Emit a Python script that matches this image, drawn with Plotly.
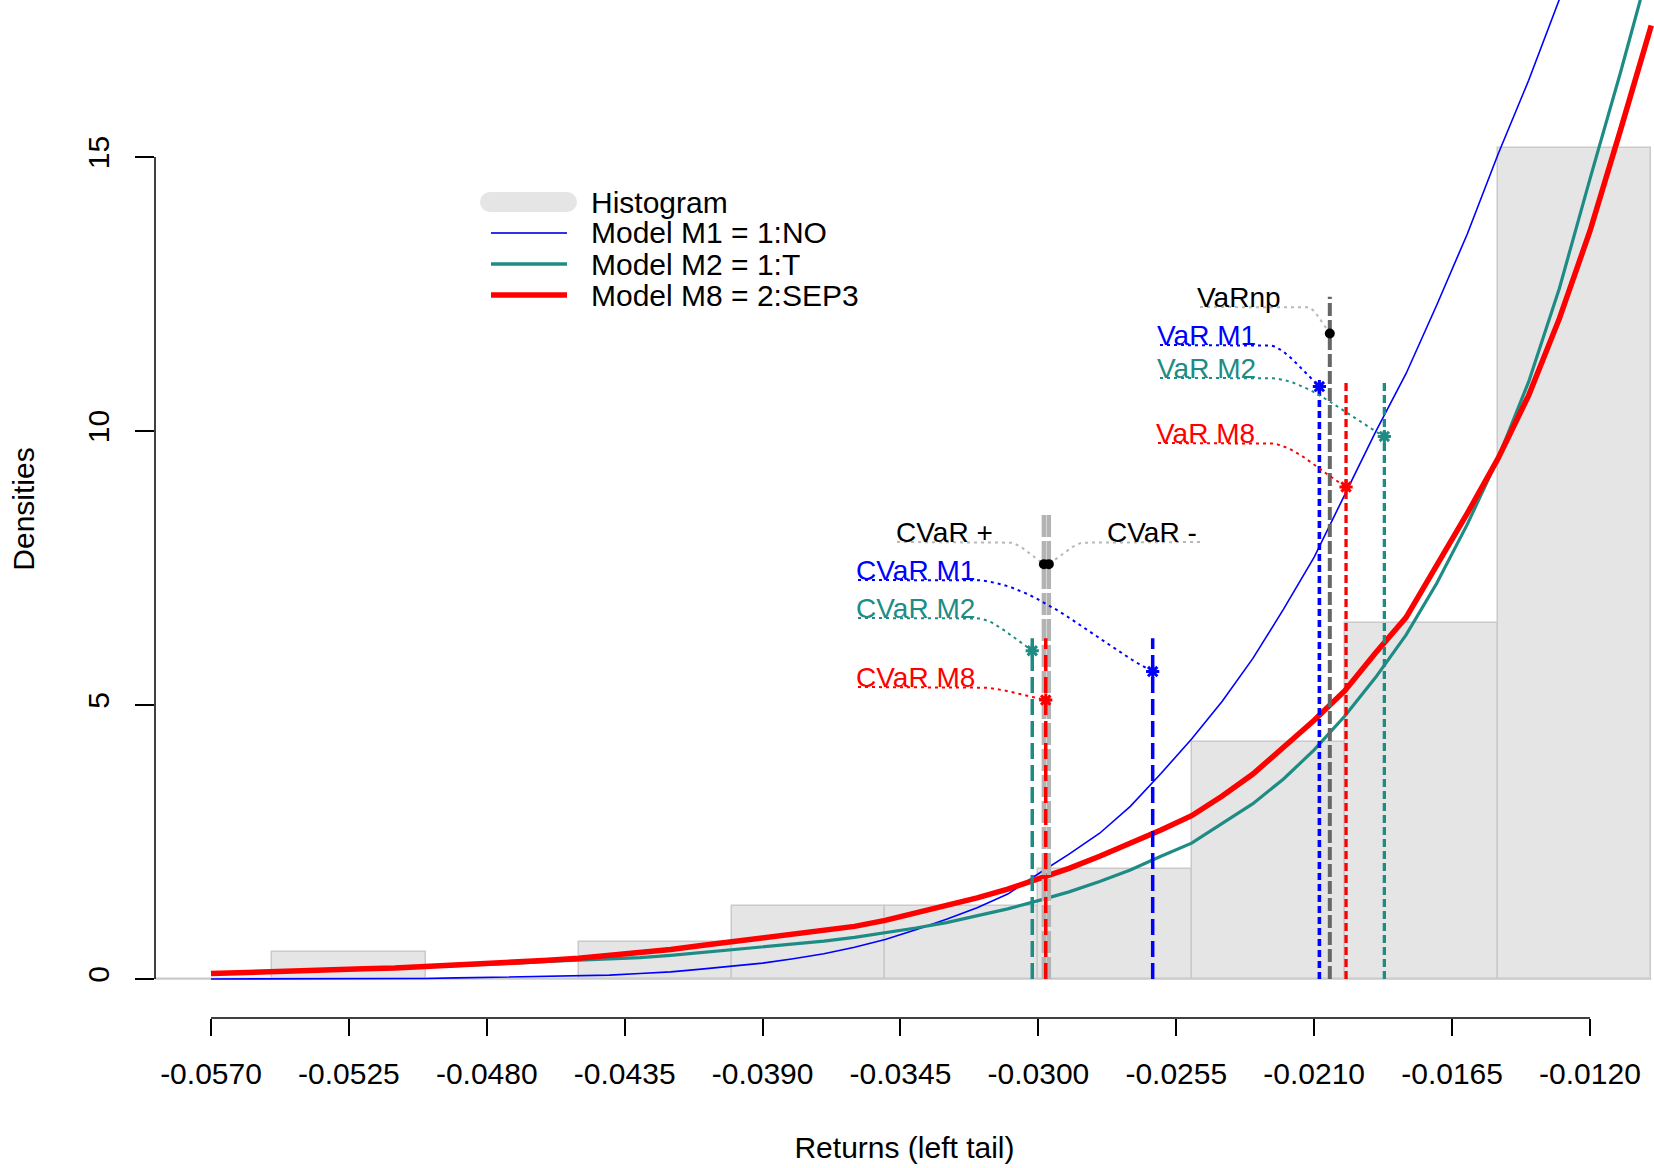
import numpy as np
import plotly.graph_objects as go

# ---------------- data ----------------
bin_edges = [-0.060, -0.055, -0.050, -0.045, -0.040, -0.035, -0.030, -0.025, -0.020, -0.015, -0.010]
hist_density = [0.0, 0.5, 0.0, 0.667, 1.333, 1.333, 2.0, 4.333, 6.5, 15.167]

grid_x = [-0.057, -0.056, -0.055, -0.054, -0.053, -0.052, -0.051, -0.050, -0.049, -0.048,
          -0.047, -0.046, -0.045, -0.044, -0.043, -0.042, -0.041, -0.040, -0.039, -0.038,
          -0.037, -0.036, -0.035, -0.034, -0.033, -0.032, -0.031, -0.030, -0.029, -0.028,
          -0.027, -0.026, -0.025, -0.024, -0.023, -0.022, -0.021, -0.020, -0.019, -0.018,
          -0.017, -0.016, -0.015, -0.014, -0.013, -0.012, -0.011, -0.010]

dens_m1 = [0.0, 0.0, 0.0, 0.0, 0.0, 0.0, 0.005, 0.01, 0.02, 0.03,
           0.035, 0.045, 0.06, 0.07, 0.10, 0.13, 0.18, 0.23, 0.29, 0.37,
           0.46, 0.58, 0.72, 0.90, 1.09, 1.30, 1.55, 1.92, 2.28, 2.66,
           3.15, 3.75, 4.38, 5.07, 5.85, 6.75, 7.70, 8.84, 9.98, 11.05,
           12.30, 13.60, 15.05, 16.40, 17.85, 19.3, 20.8, 22.3]

dens_m2 = [0.10, 0.12, 0.14, 0.15, 0.165, 0.18, 0.20, 0.22, 0.245, 0.265,
           0.29, 0.32, 0.345, 0.36, 0.39, 0.43, 0.48, 0.53, 0.58, 0.63,
           0.69, 0.76, 0.84, 0.93, 1.03, 1.15, 1.28, 1.43, 1.59, 1.78,
           1.99, 2.24, 2.48, 2.84, 3.20, 3.65, 4.18, 4.80, 5.50, 6.28,
           7.22, 8.30, 9.50, 10.90, 12.60, 14.60, 16.55, 18.60]

dens_m8 = [0.10, 0.12, 0.145, 0.155, 0.17, 0.185, 0.20, 0.225, 0.25, 0.27,
           0.30, 0.34, 0.38, 0.43, 0.49, 0.54, 0.61, 0.68, 0.74, 0.80,
           0.87, 0.96, 1.07, 1.20, 1.33, 1.48, 1.64, 1.83, 2.02, 2.24,
           2.47, 2.72, 2.98, 3.34, 3.74, 4.24, 4.72, 5.26, 5.95, 6.60,
           7.55, 8.50, 9.50, 10.65, 12.05, 13.65, 15.50, 17.40]

x_ticks = [-0.0570, -0.0525, -0.0480, -0.0435, -0.0390, -0.0345, -0.0300, -0.0255, -0.0210, -0.0165, -0.0120]
y_ticks = [0, 5, 10, 15]

var_names = ["VaRnp", "VaR M1", "VaR M2", "VaR M8"]
var_x = [-0.02049, -0.02083, -0.01871, -0.01996]
var_top = [12.45, 10.85, 10.93, 10.93]
var_mark = [11.78, 10.81, 9.90, 8.98]

cvar_names = ["CVaR +", "CVaR -", "CVaR M1", "CVaR M2", "CVaR M8"]
cvar_x = [-0.02982, -0.02966, -0.02627, -0.03020, -0.02976]
cvar_top = [8.50, 8.50, 6.22, 6.22, 6.22]
cvar_mark = [7.57, 7.57, 5.61, 5.99, 5.09]

model_names = ["Model M1 = 1:NO", "Model M2 = 1:T", "Model M8 = 2:SEP3"]

# ---------------- styles / layout ----------------
W, H = 1654, 1168
ML, MR, MT, MB = 155, 0, 0, 150
PW, PH = W - ML - MR, H - MT - MB

# pixel <-> data mapping of the reference
X_REF_PX, X_REF_VAL, X_SCALE = 211.0, -0.0570, 30644.0
Y_REF_PX, Y_SCALE = 979.0, 54.8


def px2x(px):
    return X_REF_VAL + (px - X_REF_PX) / X_SCALE


def py2y(py):
    return (Y_REF_PX - py) / Y_SCALE


def x2px(x):
    return X_REF_PX + (x - X_REF_VAL) * X_SCALE


def y2py(y):
    return Y_REF_PX - y * Y_SCALE


def ppx(px):
    return (px - ML) / PW


def ppy(py):
    return (MT + PH - py) / PH


FONT = "Liberation Sans, Arial, Helvetica, sans-serif"
BLUE = "#0000FF"
TEAL = "#1E8C85"
RED = "#FF0000"
DGREY = "#666666"
LGREY = "#B3B3B3"
CGREY = "#B8B8B8"
HFILL = "#E5E5E5"
HEDGE = "#CACACA"

style = {
    "VaRnp": dict(color=DGREY, dash="13px,4px", width=4.0, txt="black", conn=CGREY, mk="circle"),
    "VaR M1": dict(color=BLUE, dash="7px,4px", width=3.6, txt=BLUE, conn=BLUE, mk="asterisk-open"),
    "VaR M2": dict(color=TEAL, dash="8px,4px", width=3.3, txt=TEAL, conn=TEAL, mk="asterisk-open"),
    "VaR M8": dict(color=RED, dash="8px,4px", width=3.3, txt=RED, conn=RED, mk="asterisk-open"),
    "CVaR +": dict(color=LGREY, dash="22px,4px", width=4.5, txt="black", conn=CGREY, mk="circle"),
    "CVaR -": dict(color=LGREY, dash="22px,4px", width=4.5, txt="black", conn=CGREY, mk="circle"),
    "CVaR M1": dict(color=BLUE, dash="16px,6px", width=3.5, txt=BLUE, conn=BLUE, mk="asterisk-open"),
    "CVaR M2": dict(color=TEAL, dash="16px,6px", width=3.5, txt=TEAL, conn=TEAL, mk="asterisk-open"),
    "CVaR M8": dict(color=RED, dash="16px,6px", width=3.5, txt=RED, conn=RED, mk="asterisk-open"),
}

# label layout in pixels: text left, text cap-centre y, underline start, underline end, connecting side
label_pos = {
    "VaRnp": (1196, 297, 1200, 1307, "right"),
    "VaR M1": (1156, 335, 1160, 1267, "right"),
    "VaR M2": (1156, 368, 1160, 1268, "right"),
    "VaR M8": (1155, 433, 1158, 1267, "right"),
    "CVaR +": (895, 532, 897, 1007, "right"),
    "CVaR -": (1106, 532, 1087, 1200, "left"),
    "CVaR M1": (855, 570, 858, 972, "right"),
    "CVaR M2": (855, 608, 858, 975, "right"),
    "CVaR M8": (855, 677, 858, 975, "right"),
}

fig = go.Figure()

# histogram
centers = [(a + b) / 2 for a, b in zip(bin_edges[:-1], bin_edges[1:])]
widths = [b - a for a, b in zip(bin_edges[:-1], bin_edges[1:])]
fig.add_trace(go.Bar(x=centers, y=hist_density, width=widths,
                     marker=dict(color=HFILL, line=dict(color=HEDGE, width=1.5)),
                     name="Histogram", showlegend=False, hoverinfo="skip"))

# model densities
fig.add_trace(go.Scatter(x=grid_x, y=dens_m1, mode="lines", line=dict(color=BLUE, width=1.6),
                         name=model_names[0], showlegend=False))
fig.add_trace(go.Scatter(x=grid_x, y=dens_m2, mode="lines", line=dict(color=TEAL, width=3.2),
                         name=model_names[1], showlegend=False))
fig.add_trace(go.Scatter(x=grid_x, y=dens_m8, mode="lines", line=dict(color=RED, width=5.5),
                         name=model_names[2], showlegend=False))

all_names = var_names + cvar_names
all_x = var_x + cvar_x
all_top = var_top + cvar_top
all_mark = var_mark + cvar_mark

# vertical risk lines (grey ones first)
order = [i for i, n in enumerate(all_names) if style[n]["txt"] == "black"] + \
        [i for i, n in enumerate(all_names) if style[n]["txt"] != "black"]
for i in order:
    n = all_names[i]
    s = style[n]
    fig.add_trace(go.Scatter(x=[all_x[i], all_x[i]], y=[0, all_top[i]], mode="lines",
                             line=dict(color=s["color"], width=s["width"], dash=s["dash"]),
                             showlegend=False, hoverinfo="skip"))

# connectors (dotted underline + curve to the point)
for i, n in enumerate(all_names):
    s = style[n]
    left, cy, u0, u1, side = label_pos[n]
    by = cy + 10
    tx, ty = x2px(all_x[i]), y2py(all_mark[i])
    sx = u1 if side == "right" else u0
    dx, dy = tx - sx, ty - by
    t = np.linspace(0, 1, 25)
    p0 = np.array([sx, by])
    p1 = np.array([sx + 0.35 * dx, by])
    p2 = np.array([tx - 0.3 * dx, ty - 0.3 * dy])
    p3 = np.array([tx, ty])
    bez = (((1 - t) ** 3)[:, None] * p0 + (3 * (1 - t) ** 2 * t)[:, None] * p1 +
           (3 * (1 - t) * t ** 2)[:, None] * p2 + (t ** 3)[:, None] * p3)
    start = u0 if side == "right" else u1
    pxs = [start] + list(bez[:, 0])
    pys = [by] + list(bez[:, 1])
    fig.add_trace(go.Scatter(x=[px2x(v) for v in pxs], y=[py2y(v) for v in pys], mode="lines",
                             line=dict(color=s["conn"], width=2, dash="3px,4px"),
                             showlegend=False, hoverinfo="skip"))

# markers
for i, n in enumerate(all_names):
    s = style[n]
    if s["mk"] == "circle":
        mk = dict(symbol="circle", size=10, color="black")
    else:
        mk = dict(symbol="asterisk-open", size=11, color=s["color"], line=dict(color=s["color"], width=3))
    fig.add_trace(go.Scatter(x=[all_x[i]], y=[all_mark[i]], mode="markers", marker=mk,
                             showlegend=False, hoverinfo="skip"))

annotations = []
for n in all_names:
    s = style[n]
    left, cy, u0, u1, side = label_pos[n]
    annotations.append(dict(x=px2x(left), y=py2y(cy), xref="x", yref="y", text=n, showarrow=False,
                            xanchor="left", yanchor="middle", borderpad=0,
                            font=dict(family=FONT, size=28, color=s["txt"])))

shapes = []
# baseline of histogram
shapes.append(dict(type="line", xref="x", yref="y", x0=bin_edges[0], x1=bin_edges[-1], y0=0, y1=0,
                   line=dict(color=HEDGE, width=1.5), layer="below"))
# R-style axis lines (only spanning the ticks)
shapes.append(dict(type="line", xref="x", yref="paper", x0=x_ticks[0], x1=x_ticks[-1], y0=0, y1=0,
                   line=dict(color="black", width=1.5)))
shapes.append(dict(type="line", xref="paper", yref="y", x0=0, x1=0, y0=y_ticks[0], y1=y_ticks[-1],
                   line=dict(color="black", width=1.5)))

# manual legend (R style, no box)
leg_rows = [("Histogram", 202), (model_names[0], 233), (model_names[1], 264), (model_names[2], 295)]
shapes.append(dict(type="rect", xref="paper", yref="paper", x0=ppx(490), x1=ppx(567),
                   y0=ppy(212), y1=ppy(192), fillcolor=HFILL, line=dict(width=0)))
for cx in (490, 567):
    shapes.append(dict(type="circle", xref="paper", yref="paper", x0=ppx(cx - 10), x1=ppx(cx + 10),
                       y0=ppy(212), y1=ppy(192), fillcolor=HFILL, line=dict(width=0)))
for (lab, yy), col, lw in zip(leg_rows[1:], ["#3030E8", TEAL, RED], [2.0, 3.3, 5.5]):
    shapes.append(dict(type="line", xref="paper", yref="paper", x0=ppx(491), x1=ppx(567),
                       y0=ppy(yy), y1=ppy(yy), line=dict(color=col, width=lw)))
for lab, yy in leg_rows:
    annotations.append(dict(x=ppx(590), y=ppy(yy), xref="paper", yref="paper", text=lab,
                            showarrow=False, xanchor="left", yanchor="middle", borderpad=0,
                            font=dict(family=FONT, size=30, color="black")))

fig.update_layout(
    width=W, height=H,
    margin=dict(l=ML, r=MR, t=MT, b=MB, pad=0),
    paper_bgcolor="white", plot_bgcolor="white",
    showlegend=False, bargap=0,
    shapes=shapes, annotations=annotations,
    font=dict(family=FONT, color="black"),
    xaxis=dict(range=[px2x(ML), px2x(W - MR)], showgrid=False, zeroline=False, showline=False,
               tickmode="array", tickvals=x_ticks, ticktext=["%.4f" % v for v in x_ticks],
               ticks="outside", ticklen=17, tickwidth=1.5, tickcolor="black",
               tickfont=dict(family=FONT, size=30, color="black"), ticklabelstandoff=12,
               title=dict(text="Returns (left tail)", font=dict(family=FONT, size=30, color="black"),
                          standoff=47),
               automargin=False, fixedrange=True),
    yaxis=dict(range=[py2y(MT + PH), py2y(MT)], showgrid=False, zeroline=False, showline=False,
               tickmode="array", tickvals=y_ticks, ticktext=[str(v) for v in y_ticks],
               ticks="outside", ticklen=19, tickwidth=1.5, tickcolor="black", tickangle=-90,
               tickfont=dict(family=FONT, size=30, color="black"), ticklabelstandoff=14,
               title=dict(text="Densities", font=dict(family=FONT, size=30, color="black"), standoff=38),
               automargin=False, fixedrange=True),
)

fig.write_html("out.html")
